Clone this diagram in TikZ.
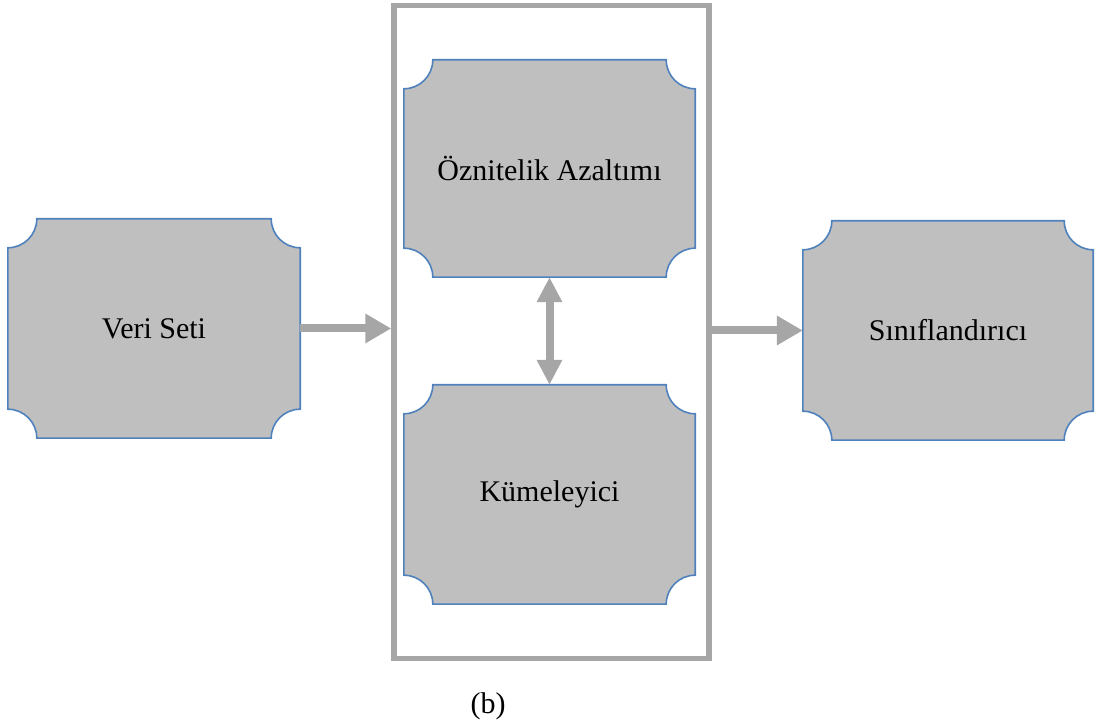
\documentclass[tikz,border=0pt]{standalone}
\usepackage{fontspec}
\setmainfont{Liberation Serif}
\usetikzlibrary{arrows.meta,backgrounds}
\definecolor{boxfill}{HTML}{BFBFBF}
\definecolor{boxline}{HTML}{4F81BD}
\definecolor{flow}{HTML}{A6A6A6}
\tikzset{
  stage/.style={rectangle,draw=none,inner sep=0pt,font=\fontsize{30}{36}\selectfont},
  plaque/.style={fill=boxfill,draw=boxline,line width=1.6pt},
  flowarrow/.style={draw=flow,line width=8pt,-{Triangle[length=26pt,width=28pt]}},
  flowboth/.style={draw=flow,line width=8pt,{Triangle[length=25pt,width=24pt]}-{Triangle[length=25pt,width=24pt]}}
}
% concave-cornered box drawn around a named node
\newcommand\plaquebox[2][29]{%
  \draw[plaque] ([xshift=#1pt]#2.north west) -- ([xshift=-#1pt]#2.north east)
    arc[start angle=180,end angle=270,radius=#1pt]
    -- ([yshift=#1pt]#2.south east)
    arc[start angle=90,end angle=180,radius=#1pt]
    -- ([xshift=#1pt]#2.south west)
    arc[start angle=0,end angle=90,radius=#1pt]
    -- ([yshift=-#1pt]#2.north west)
    arc[start angle=270,end angle=360,radius=#1pt] -- cycle;}
\begin{document}
\begin{tikzpicture}[x=1pt,y=1pt]
\useasboundingbox (0,0) rectangle (1097,727);
% group frame
\node[draw=flow,line width=5.5pt,minimum width=315pt,minimum height=653pt,inner sep=0pt] (grp) at (551.5,395) {};
% stages
\node[stage,minimum width=292pt,minimum height=219pt] (veri) at (154,398.5) {Veri Seti};
\node[stage,minimum width=291pt,minimum height=217pt] (ozn) at (549.5,558.5) {Öznitelik Azaltımı};
\node[stage,minimum width=291pt,minimum height=219pt] (kum) at (549.5,232.5) {Kümeleyici};
\node[stage,minimum width=290pt,minimum height=219pt] (sin) at (948,396.5) {Sınıflandırıcı};
\begin{scope}[on background layer]
  \plaquebox{veri}
  \plaquebox{ozn}
  \plaquebox{kum}
  \plaquebox{sin}
\end{scope}
% connectors
\draw[flowarrow] (veri.east) -- (grp.west |- veri.east);
\draw[flowarrow] (grp.east |- sin.west) -- (sin.west);
\draw[flowboth] (ozn.south) -- (kum.north);
% caption
\node[font=\fontsize{30}{36}\selectfont] (cap) at (488,21) {(b)};
\end{tikzpicture}
\end{document}
